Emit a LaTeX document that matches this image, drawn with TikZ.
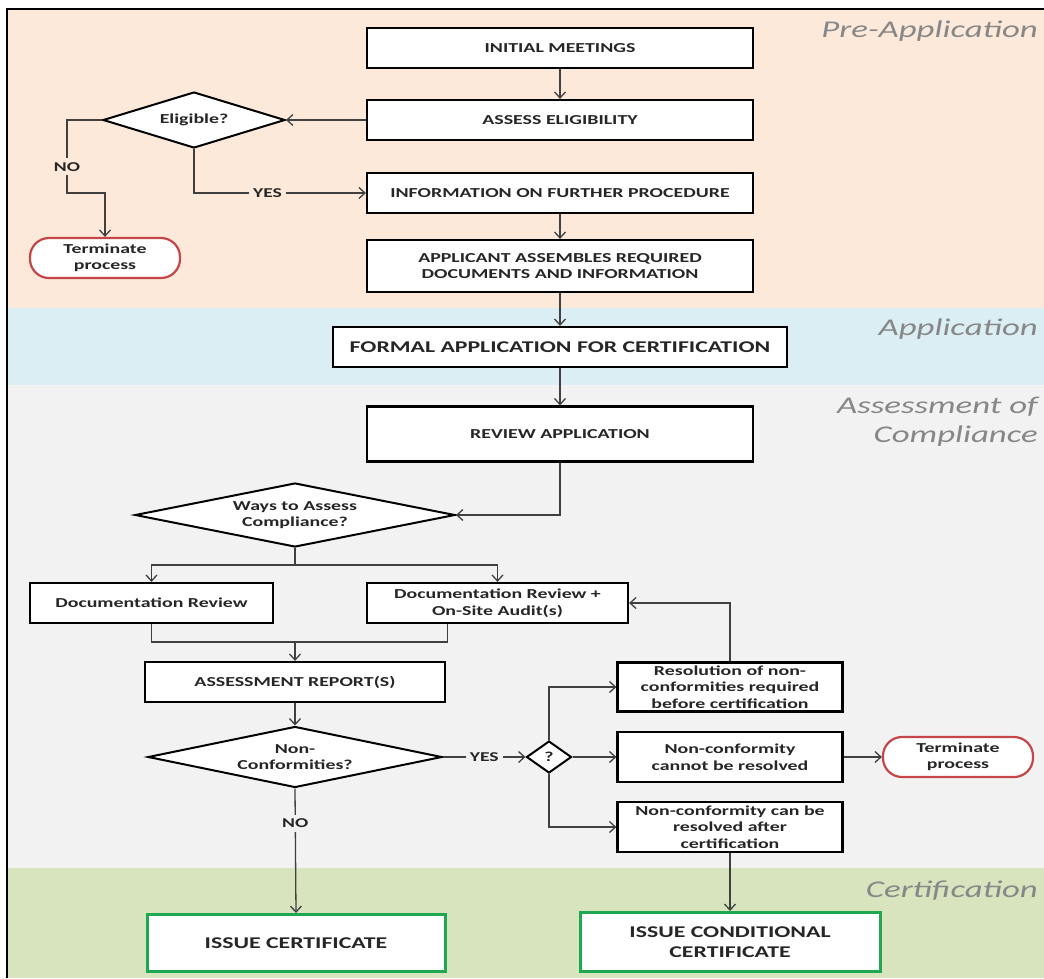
\documentclass[tikz,border=0pt]{standalone}
\usepackage{fontspec}
\setmainfont{Carlito}[FakeStretch=1.45]
\usetikzlibrary{shapes.geometric,arrows.meta}

\begin{document}
\begin{tikzpicture}[x=1pt, y=-1pt,
  box/.style={draw=black, line width=2.2pt, fill=white, text=boxtext, align=center, inner sep=1pt, font=\fontsize{13.7}{16.5}\selectfont\bfseries},
  bigbox/.style={box, font=\fontsize{16.4}{20}\selectfont\bfseries},
  greenbox/.style={bigbox, draw=certgreen, line width=3pt},
  decision/.style={diamond, draw=black, line width=2pt, fill=white, text=boxtext, align=center, inner sep=0pt, font=\fontsize{13.7}{16.5}\selectfont\bfseries},
  stopnode/.style={box, draw=stopred, rounded corners=19pt, minimum width=150pt, minimum height=40pt},
  link/.style={draw=linkgray, line width=1.3pt},
  flow/.style={link, -{Straight Barb[length=6pt, width=11pt, line width=1.3pt]}},
  yesno/.style={text=boxtext, inner sep=4pt, font=\fontsize{13.5}{16}\selectfont\bfseries},
  phase/.style={text=phasegray, anchor=base east, inner sep=0pt, font=\fontsize{24}{29}\selectfont\itshape}
]

\definecolor{peach}{RGB}{253,233,218}
\definecolor{paleblue}{RGB}{219,238,243}
\definecolor{palegray}{RGB}{242,242,242}
\definecolor{palegreen}{RGB}{215,228,190}
\definecolor{boxtext}{RGB}{38,38,38}
\definecolor{linkgray}{RGB}{64,64,64}
\definecolor{phasegray}{RGB}{135,135,135}
\definecolor{certgreen}{RGB}{30,168,80}
\definecolor{stopred}{RGB}{196,70,72}

\useasboundingbox (0,0) rectangle (1044,978);

\fill[peach] (7,9) rectangle (1044,308);
\fill[paleblue] (7,308) rectangle (1044,385);
\fill[palegray] (7,385) rectangle (1044,868);
\fill[palegreen] (7,868) rectangle (1044,978);
\draw[line width=1.6pt] (7,978) -- (7,9) -- (1044,9);

\node[phase] (prephase) at (1038,37) {Pre-Application};
\node[phase] (appphase) at (1038,335) {Application};
\node[phase] (assphase) at (1038,413) {Assessment of};
\node[phase] (compphase) at (1038,442) {Compliance};
\node[phase] (certphase) at (1038,897) {Certification};

\node[box, minimum width=386pt, minimum height=40pt] (init) at (560,48) {INITIAL MEETINGS};
\node[box, minimum width=386pt, minimum height=40pt] (assess) at (560,120) {ASSESS ELIGIBILITY};
\node[box, minimum width=386pt, minimum height=40pt] (info) at (560,193) {INFORMATION ON FURTHER PROCEDURE};
\node[box, minimum width=386pt, minimum height=52pt] (assemble) at (560,266) {APPLICANT ASSEMBLES REQUIRED\\DOCUMENTS AND INFORMATION};
\node[decision, aspect=3.25, minimum width=182pt, minimum height=56pt] (elig) at (194,120) {Eligible?};
\node[stopnode] (stopleft) at (105,258) {Terminate\\process};

\node[bigbox, minimum width=454pt, minimum height=40pt] (formal) at (560,347) {FORMAL APPLICATION FOR CERTIFICATION};

\node[box, minimum width=386pt, minimum height=55pt] (review) at (560,434) {REVIEW APPLICATION};
\node[decision, aspect=5, minimum width=320pt, minimum height=64pt] (ways) at (295,515) {Ways to Assess\\Compliance?};
\node[box, minimum width=243pt, minimum height=40pt] (docrev) at (151.5,603) {Documentation Review};
\node[box, minimum width=261pt, minimum height=40pt] (docaudit) at (497.5,603) {Documentation Review +\\On-Site Audit(s)};
\node[box, minimum width=300pt, minimum height=40pt] (report) at (295,682) {ASSESSMENT REPORT(S)};
\node[decision, aspect=4.8, minimum width=294pt, minimum height=61pt] (noncon) at (295,757) {Non-\\Conformities?};
\node[decision, aspect=1.4, minimum width=45pt, minimum height=32pt] (query) at (549,757) {?};
\node[box, minimum width=225pt, minimum height=49pt] (resolve) at (730,687) {Resolution of non-\\conformities required\\before certification};
\node[box, minimum width=225pt, minimum height=50pt] (cannot) at (730,757) {Non-conformity\\cannot be resolved};
\node[box, minimum width=225pt, minimum height=50pt] (canbe) at (730,827) {Non-conformity can be\\resolved after\\certification};
\node[stopnode] (stopright) at (958,757) {Terminate\\process};

\node[greenbox, minimum width=298pt, minimum height=57pt] (issue) at (296,943) {ISSUE CERTIFICATE};
\node[greenbox, minimum width=300pt, minimum height=59pt] (condissue) at (730,942) {ISSUE CONDITIONAL\\CERTIFICATE};

\coordinate (nobend) at (67,193);
\coordinate (fork) at (295,565);
\coordinate (merge) at (295,642);

\draw[flow] (init) -- (assess);
\draw[flow] (assess) -- (elig);
\draw[flow] (elig.west) -| node[pos=0.82, yesno, fill=peach] {NO} (nobend) -| (stopleft.north);
\draw[flow] (elig.south) |- node[pos=0.714, yesno, fill=peach] {YES} (info.west);
\draw[flow] (info) -- (assemble);
\draw[flow] (assemble) -- (formal);
\draw[flow] (formal) -- (review);
\draw[flow] (review.south) |- (ways.east);
\draw[link] (ways.south) -- (fork);
\draw[flow] (fork) -| (docrev.north);
\draw[flow] (fork) -| (docaudit.north);
\draw[link] (docrev.south) |- (merge);
\draw[link] ([xshift=-50pt]docaudit.south) |- (merge);
\draw[flow] (merge) -- (report.north);
\draw[flow] (report) -- (noncon);
\draw[flow] (noncon.south) -- node[pos=0.28, yesno, fill=palegray] {NO} (issue.north);
\draw[flow] (noncon.east) -- node[pos=0.5, yesno, fill=palegray] {YES} (query.west);
\draw[flow] (query.north) |- (resolve.west);
\draw[flow] (query.east) -- (cannot.west);
\draw[flow] (query.south) |- (canbe.west);
\draw[flow] (resolve.north) |- (docaudit.east);
\draw[flow] (cannot.east) -- (stopright.west);
\draw[flow] (canbe.south) -- (condissue.north);

\end{tikzpicture}
\end{document}
